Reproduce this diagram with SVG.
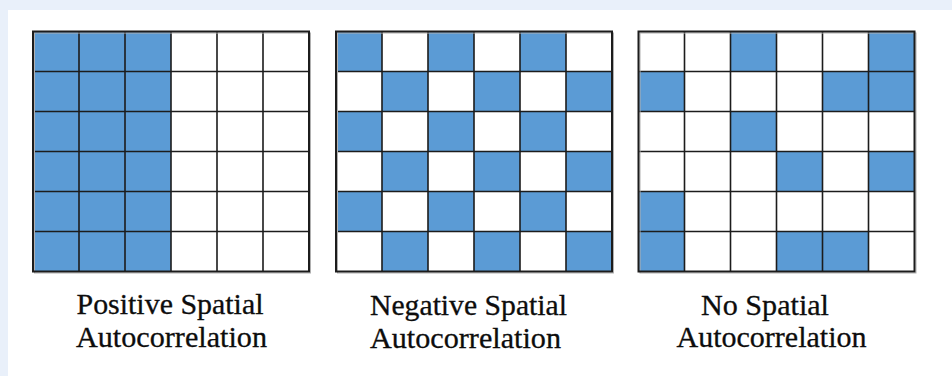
<svg xmlns="http://www.w3.org/2000/svg" width="952" height="376" viewBox="0 0 952 376">
<defs>
<style>
.b{fill:#5b9bd5}
.g{stroke:#1c1c1c;stroke-width:1.6;fill:none}
.o{stroke:#1c1c1c;stroke-width:2;fill:none}
.s{stroke:#b0b0b0;stroke-width:1;fill:none}
.t{font-size:29px;fill:#0d0d0d;text-anchor:middle;stroke:#0d0d0d;stroke-width:0.3}
</style>
<g id="gridlines">
<path class="g" d="M46,0V240M92,0V240M138,0V240M184,0V240M230,0V240M0,40H276M0,80H276M0,120H276M0,160H276M0,200H276"/>
<rect class="s" x="1.5" y="1.5" width="276" height="240"/>
<rect class="o" x="0" y="0" width="276" height="240"/>
</g>
</defs>
<rect width="952" height="376" fill="#e9f0fa"/>
<rect x="8" y="10" width="944" height="366" fill="#fff"/>

<g id="positive" transform="translate(33,31.5)">
<rect fill="#fff" width="276" height="240"/>
<rect class="b" x="0" y="0" width="138" height="240"/>
<use href="#gridlines"/>
</g>

<g id="negative" transform="translate(336,31.5)">
<rect fill="#fff" width="276" height="240"/>
<path class="b" d="M0,0h46v40h-46zM92,0h46v40h-46zM184,0h46v40h-46z
M46,40h46v40h-46zM138,40h46v40h-46zM230,40h46v40h-46z
M0,80h46v40h-46zM92,80h46v40h-46zM184,80h46v40h-46z
M46,120h46v40h-46zM138,120h46v40h-46zM230,120h46v40h-46z
M0,160h46v40h-46zM92,160h46v40h-46zM184,160h46v40h-46z
M46,200h46v40h-46zM138,200h46v40h-46zM230,200h46v40h-46z"/>
<use href="#gridlines"/>
</g>

<g id="none" transform="translate(638.5,31.5)">
<rect fill="#fff" width="276" height="240"/>
<path class="b" d="M92,0h46v40h-46zM230,0h46v40h-46z
M0,40h46v40h-46zM184,40h92v40h-92z
M92,80h46v40h-46z
M138,120h46v40h-46zM230,120h46v40h-46z
M0,160h46v80h-46z
M138,200h92v40h-92z"/>
<use href="#gridlines"/>
</g>

<g id="labels" font-family="'Liberation Serif', 'Times New Roman', serif">
<g id="label-positive">
<text class="t" x="170" y="314" textLength="187" lengthAdjust="spacingAndGlyphs">Positive Spatial</text>
<text class="t" x="171.5" y="347" textLength="191" lengthAdjust="spacingAndGlyphs">Autocorrelation</text>
</g>
<g id="label-negative">
<text class="t" x="468.5" y="315" textLength="197" lengthAdjust="spacingAndGlyphs">Negative Spatial</text>
<text class="t" x="465.5" y="348" textLength="191" lengthAdjust="spacingAndGlyphs">Autocorrelation</text>
</g>
<g id="label-none">
<text class="t" x="765" y="315" textLength="128" lengthAdjust="spacingAndGlyphs">No Spatial</text>
<text class="t" x="771.5" y="347" textLength="190" lengthAdjust="spacingAndGlyphs">Autocorrelation</text>
</g>
</g>
</svg>
